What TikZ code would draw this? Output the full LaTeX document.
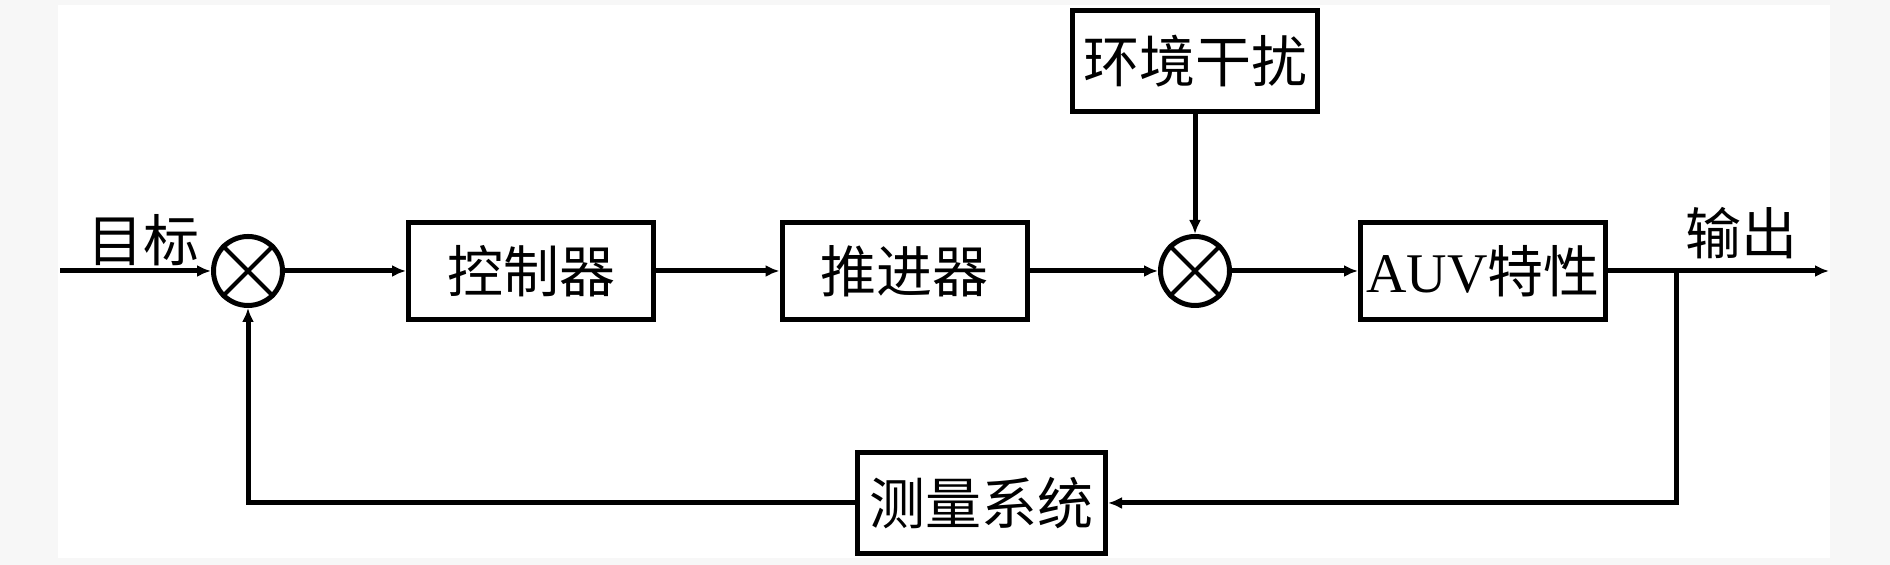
\documentclass[tikz,border=0pt]{standalone}
\usepackage{fontspec}
\setmainfont{Liberation Serif}
\newfontfamily\cjk{Noto Sans CJK SC}
\usetikzlibrary{arrows.meta}
\definecolor{bggray}{HTML}{F7F7F7}

\tikzset{
  block/.style={draw, line width=2.5pt, minimum width=122.5pt, minimum height=48.5pt,
    inner sep=0pt, font=\fontsize{28}{30}\selectfont},
  sumnode/.style={draw, circle, line width=2.5pt, minimum size=34.5pt, inner sep=0pt},
  conn/.style={line width=2.5pt, -{Latex[length=7pt,width=6pt]}},
  lbl/.style={inner sep=0pt, font=\fontsize{28}{30}\selectfont\cjk},
}

\begin{document}
\begin{tikzpicture}[x=0.5pt,y=0.5pt]
  % background
  \fill[bggray] (0,0) rectangle (1890,565);
  \fill[white] (58,7) rectangle (1830,560);
%%
  % Nodes: forward path
  \node[sumnode] (sum1) at (248,294) {};
  \node[block] (ctrl) at (531,294) {\cjk 控制器};
  \node[block] (thr) at (904.5,294) {\cjk 推进器};
  \node[sumnode] (sum2) at (1195,294) {};
  \node[block, minimum height=50.25pt] (env) at (1195,504) {\cjk 环境干扰};
  \node[block] (auv) at (1483,294) {AUV\cjk 特性};
  % Node: feedback
  \node[block, minimum width=124pt, minimum height=50.25pt] (meas) at (981.5,62) {\cjk 测量系统};
  % crosses in the summing points
  \foreach \s in {sum1,sum2} {
    \draw[line width=2pt] (\s.north east) -- (\s.south west);
    \draw[line width=2pt] (\s.north west) -- (\s.south east);
  }
  % free ends
  \coordinate (in) at (60,294);
  \coordinate (out) at (1829,294);
  \coordinate (branch) at (1676,294);
  \node[lbl] (target) at (143,325) {目标};
  \node[lbl] (output) at (1741,332) {输出};
%%
  % Edges
  \draw[conn] (in) -- (sum1);
  \draw[conn] (sum1) -- (ctrl);
  \draw[conn] (ctrl) -- (thr);
  \draw[conn] (thr) -- (sum2);
  \draw[conn] (env) -- (sum2);
  \draw[conn] (sum2) -- (auv);
  \draw[conn] (auv) -- (out);
  \draw[conn] (branch) |- (meas);
  \draw[conn] (meas) -| (sum1);
%
\end{tikzpicture}
\end{document}
